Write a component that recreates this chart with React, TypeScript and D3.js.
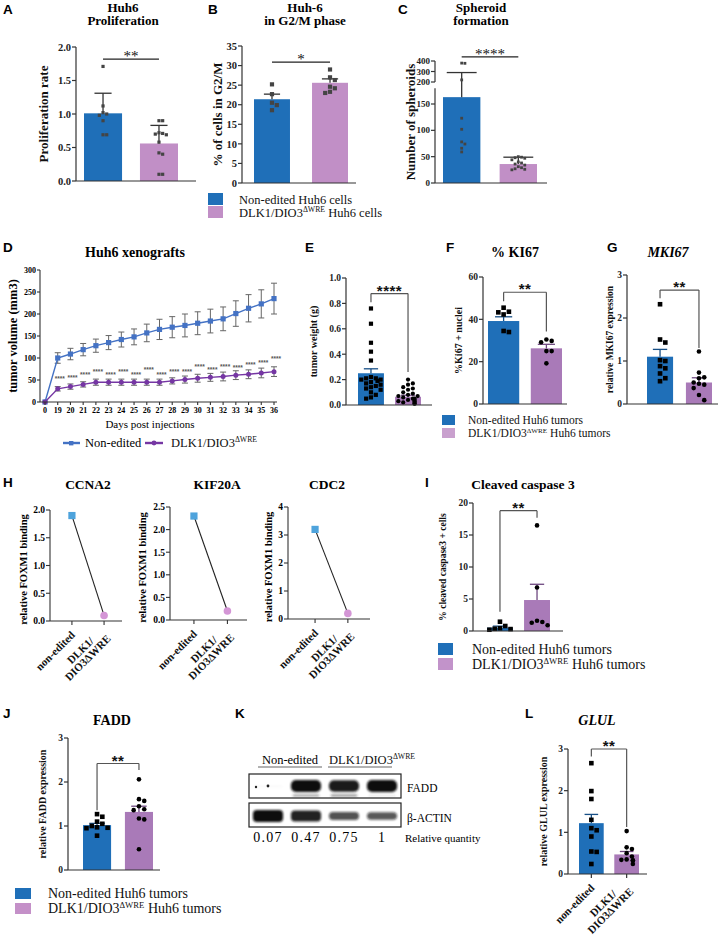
import React from 'react';
import * as d3 from 'd3';

const SERIF = '"Liberation Serif", "Times New Roman", serif';
const SANS = '"Liberation Sans", Arial, sans-serif';

const BLUE = '#1f6fb8';
const PURPLE_L = '#c18fc6';
const PURPLE = '#a97ab8';
const BLUE_D = '#174f86';
const PURPLE_D = '#6e4880';

// ---------- data ----------
// A: Huh6 proliferation
const prolifMean = [1.01, 0.56];
const prolifSem = [0.3, 0.27];
const prolifPts = [
  [1.71, 1.12, 1.02, 1.0, 0.98, 0.9, 0.69, 0.69],
  [0.9, 0.9, 0.72, 0.71, 0.7, 0.69, 0.58, 0.42, 0.4, 0.1, 0.1],
];
// B: G2/M phase
const g2mMean = [21.4, 25.6];
const g2mSem = [1.3, 1.0];
const g2mPts = [
  [25.2, 22.7, 20.5, 19.9, 18.6],
  [29, 27, 26.3, 24.6, 24.2, 23.3, 23.0],
];
// C: spheroids
const sphMean = [163, 36];
const sphSem = [127, 13];
const sphPts = [
  [380, 378, 220, 123, 102, 78, 74, 66, 59],
  [50, 49, 48, 47, 44, 40, 38, 36, 34, 31, 29, 27, 26, 25],
];
// D: xenografts
const days = ['0', '19', '20', '21', '22', '23', '24', '25', '26', '27', '28', '29', '30', '31', '32', '33', '34', '35', '36'];
const volNonEdited = [0, 100, 109, 119, 128, 135, 142, 148, 157, 165, 170, 174, 179, 184, 189, 201, 213, 223, 235];
const semNonEdited = [0, 12, 13, 14, 15, 16, 17, 18, 20, 23, 24, 26, 26, 27, 27, 29, 31, 32, 35];
const volDlk = [0, 30, 35, 40, 45, 45, 45, 45, 45, 45, 48, 51, 54, 56, 58, 61, 63, 66, 69];
const semDlk = [0, 5, 6, 6, 7, 7, 7, 7, 7, 7, 7, 8, 9, 9, 10, 10, 10, 11, 11];
const starLevel = [NaN, 48, 50, 56, 63, 56, 63, 56, 69, 56, 64, 64, 75, 69, 76, 72, 80, 84, 94];
// E: tumor weight
const weightMean = [0.25, 0.065];
const weightSem = [0.035, 0.012];
const weightPts = [
  [0.76, 0.64, 0.49, 0.42, 0.35, 0.22, 0.21, 0.21, 0.2, 0.2, 0.19, 0.18, 0.17, 0.16, 0.15, 0.14, 0.13, 0.12, 0.1, 0.08, 0.06, 0.05],
  [0.2, 0.17, 0.16, 0.14, 0.13, 0.12, 0.1, 0.09, 0.08, 0.07, 0.07, 0.06, 0.05, 0.05, 0.04, 0.04, 0.03, 0.03, 0.02, 0.02, 0.01, 0.01],
];
// F: % KI67
const ki67Mean = [39.2, 26.3];
const ki67Sem = [2.0, 1.9];
const ki67Pts = [
  [45.5, 43.6, 43.3, 42.3, 34.5, 34],
  [30.5, 29.8, 29.2, 25, 25, 19.2],
];
// G: MKI67
const mki67Mean = [1.1, 0.5];
const mki67Sem = [0.17, 0.11];
const mki67Pts = [
  [2.32, 1.5, 1.43, 1.02, 1.0, 0.88, 0.83, 0.71, 0.6, 0.53],
  [1.22, 0.73, 0.62, 0.6, 0.5, 0.47, 0.45, 0.37, 0.21, 0.09],
];
// H: FOXM1 binding
const foxCategories = [['non-edited'], ['DLK1/', 'DIO3ΔWRE']];
const foxCcna2 = [1.9, 0.1];
const foxKif20a = [2.3, 0.2];
const foxCdc2 = [3.2, 0.2];
// I: cleaved caspase 3
const caspMean = [0.52, 4.84];
const caspSem = [0.24, 2.46];
const caspPts = [
  [1.45, 0.78, 0.42, 0.35, 0.3, 0.2],
  [16.5, 6.8, 1.6, 1.4, 1.3, 0.9],
];
// J: FADD
const faddMean = [1.02, 1.32];
const faddSem = [0.04, 0.13];
const faddPts = [
  [1.27, 1.21, 1.1, 1.05, 1.0, 0.97, 0.96, 0.95, 0.78],
  [2.06, 1.61, 1.57, 1.45, 1.38, 1.36, 1.17, 1.15, 0.47],
];
// K: western blot
const relQuantity = [0.07, 0.47, 0.75, 1];
const faddBand = [0.05, 1, 0.95, 1];
const faddLowerBand = [0, 0.35, 0.4, 0.08];
const actinBand = [1, 0.85, 0.5, 0.45];
// L: GLUL
const glulMean = [1.22, 0.47];
const glulSem = [0.21, 0.07];
const glulPts = [
  [2.66, 1.99, 1.8, 1.3, 1.1, 1.05, 0.9, 0.54, 0.53, 0.24],
  [1.03, 0.64, 0.6, 0.5, 0.42, 0.35, 0.34, 0.33, 0.32, 0.24],
];

// ---------- helpers ----------
let ctx: CanvasRenderingContext2D | null = null;
function measure(t: string, font: string) {
  if (!ctx) ctx = document.createElement('canvas').getContext('2d');
  if (!ctx) return t.length * 5;
  ctx.font = font;
  return ctx.measureText(t).width;
}

// simple deterministic beeswarm offsets
function swarm(vals: number[], y: (v: number) => number, d: number, maxOff: number) {
  const placed: [number, number][] = [];
  const xs: number[] = new Array(vals.length).fill(0);
  const order = d3.range(vals.length).sort((a, b) => vals[b] - vals[a]);
  for (const i of order) {
    const py = y(vals[i]);
    let off = 0;
    for (let k = 0; k < 40; k++) {
      const o = k === 0 ? 0 : (k % 2 ? 1 : -1) * Math.ceil(k / 2) * d;
      if (Math.abs(o) > maxOff) { off = (k % 2 ? 1 : -1) * maxOff * 0.6; break; }
      if (placed.every(([px, qy]) => Math.hypot(px - o, qy - py) >= d)) { off = o; break; }
    }
    placed.push([off, py]);
    xs[i] = off;
  }
  return xs;
}

function DlkText({ x, y, size, rest, weight = 'normal', anchor = 'start' }: any) {
  return (
    <text x={x} y={y} fontSize={size} fontFamily={SERIF} fontWeight={weight} textAnchor={anchor} fill="#111">
      DLK1/DIO3
      <tspan dy={-size * 0.38} fontSize={size * 0.62}>ΔWRE</tspan>
      {rest ? <tspan dy={size * 0.38}>{rest}</tspan> : null}
    </text>
  );
}

function RotLabel({ x, y, lines, size }: { x: number; y: number; lines: string[]; size: number }) {
  const font = `bold ${size}px ${SERIF}`;
  const w = Math.max(...lines.map(l => measure(l, font)));
  const n = lines.length;
  return (
    <text transform={`translate(${x},${y}) rotate(-45)`} fontFamily={SERIF} fontWeight="bold" fontSize={size} textAnchor="middle" fill="#111">
      {lines.map((l, i) => (
        <tspan key={i} x={-w / 2} y={size * 0.35 + (i - (n - 1) / 2) * size * 0.95}>{l}</tspan>
      ))}
    </text>
  );
}

function Letter({ x, y, t }: { x: number; y: number; t: string }) {
  return <text x={x} y={y} fontFamily={SANS} fontWeight="bold" fontSize={13.5} fill="#000">{t}</text>;
}

function Title({ x, y, lines, size, italic, gap = 13.5 }: any) {
  return (
    <g>
      {lines.map((l: string, i: number) => (
        <text key={i} x={x} y={y + i * gap} textAnchor="middle" fontFamily={SERIF} fontWeight="bold" fontSize={size} fontStyle={italic ? 'italic' : 'normal'} fill="#000">{l}</text>
      ))}
    </g>
  );
}

type Legend = { x: number; y: number; w: number; h: number; gap: number; textX: number; size: number; colors: string[]; rest: string };
function SquareLegend({ l }: { l: Legend }) {
  return (
    <g>
      {l.colors.map((c, i) => <rect key={i} x={l.x} y={l.y + i * l.gap} width={l.w} height={l.h} fill={c} />)}
      <text x={l.textX} y={l.y + l.h - 1} fontFamily={SERIF} fontSize={l.size} fill="#111">Non-edited{l.rest}</text>
      <DlkText x={l.textX} y={l.y + l.gap + l.h - 1} size={l.size} rest={l.rest} />
    </g>
  );
}

// ---------- bar panels ----------
type Sig = { label: string; y: number; legs?: [number, number]; size: number; font: string; color: string };
type BarCfg = {
  means: number[]; sems: number[]; pts: number[][];
  axisX: number; axisEnd: number; y0: number; yTop: number; domain: [number, number];
  upper?: { domain: [number, number]; range: [number, number]; ticks: number[] };
  ticks: number[]; fmt: (v: number) => string; tickSize: number;
  band: [number, number]; padIn: number;
  fills: string[]; errColors: string[]; capFrac: number;
  shapes: string[]; ptColor: string; ptSize: number;
  ylabel: string; ylabelX: number; ylabelSize: number;
  sig: Sig; xLabels?: string[][];
};

function BarPanel({ c }: { c: BarCfg }) {
  const lo = d3.scaleLinear().domain(c.domain).range([c.y0, c.yTop]);
  const hi = c.upper ? d3.scaleLinear().domain(c.upper.domain).range(c.upper.range) : null;
  const y = (v: number) => (hi && v > c.domain[1] ? hi(v) : lo(v));
  const x = d3.scaleBand<number>().domain(d3.range(c.means.length)).range(c.band).paddingInner(c.padIn);
  const bw = x.bandwidth();
  const cx = (i: number) => (x(i) as number) + bw / 2;
  const topY = c.upper ? c.upper.range[1] : c.yTop;
  const ticks = c.ticks.map(t => ({ t, py: lo(t) })).concat(c.upper ? c.upper.ticks.map(t => ({ t, py: hi!(t) })) : []);
  const sy = y(c.sig.y);
  const x1 = cx(0), x2 = cx(1);
  return (
    <g>
      {c.means.map((m, i) => (
        <rect key={'b' + i} x={x(i)} y={y(m)} width={bw} height={c.y0 - y(m)} fill={c.fills[i]} />
      ))}
      {c.means.map((m, i) => {
        const cw = bw * c.capFrac;
        const t = y(m + c.sems[i]);
        return (
          <g key={'e' + i} stroke={c.errColors[i]} strokeWidth={1.3}>
            <line x1={cx(i)} x2={cx(i)} y1={y(m)} y2={t} />
            <line x1={cx(i) - cw / 2} x2={cx(i) + cw / 2} y1={t} y2={t} />
          </g>
        );
      })}
      {c.pts.map((arr, gi) => {
        const offs = swarm(arr, y, c.ptSize * 1.15, bw * 0.42);
        return arr.map((v, k) => {
          const px = cx(gi) + offs[k];
          const py = y(v);
          return c.shapes[gi] === 'sq' ? (
            <rect key={gi + '-' + k} x={px - c.ptSize / 2} y={py - c.ptSize / 2} width={c.ptSize} height={c.ptSize} fill={c.ptColor} />
          ) : (
            <circle key={gi + '-' + k} cx={px} cy={py} r={c.ptSize / 2} fill={c.ptColor} />
          );
        });
      })}
      <g stroke="#333" strokeWidth={1.2}>
        <line x1={c.axisX} x2={c.axisX} y1={c.y0} y2={c.yTop} />
        {c.upper ? <line x1={c.axisX} x2={c.axisX} y1={c.upper.range[0]} y2={c.upper.range[1]} /> : null}
        <line x1={c.axisX} x2={c.axisEnd} y1={c.y0} y2={c.y0} />
        {ticks.map(({ t, py }) => <line key={t} x1={c.axisX - 4} x2={c.axisX} y1={py} y2={py} />)}
        {c.xLabels ? c.means.map((_, i) => <line key={'xt' + i} x1={cx(i)} x2={cx(i)} y1={c.y0} y2={c.y0 + 4} />) : null}
      </g>
      {ticks.map(({ t, py }) => (
        <text key={'l' + t} x={c.axisX - 5} y={py} dy="0.35em" textAnchor="end" fontFamily={SERIF} fontWeight="bold" fontSize={c.tickSize} fill="#222">{c.fmt(t)}</text>
      ))}
      <text transform={`translate(${c.ylabelX},${(c.y0 + topY) / 2}) rotate(-90)`} textAnchor="middle" dy="0.35em" fontFamily={SERIF} fontWeight="bold" fontSize={c.ylabelSize} fill="#111">{c.ylabel}</text>
      <g stroke={c.sig.color} strokeWidth={1.2} fill="none">
        <line x1={x1} x2={x2} y1={sy} y2={sy} />
        {c.sig.legs ? <line x1={x1} x2={x1} y1={sy} y2={y(c.sig.legs[0])} /> : null}
        {c.sig.legs ? <line x1={x2} x2={x2} y1={sy} y2={y(c.sig.legs[1])} /> : null}
      </g>
      <text x={(x1 + x2) / 2} y={sy + 2} textAnchor="middle" fontFamily={c.sig.font} fontWeight={c.sig.font === SANS ? 'bold' : 'normal'} fontSize={c.sig.size} fill="#111" letterSpacing={c.sig.font === SANS ? 0.5 : 0}>{c.sig.label}</text>
      {c.xLabels ? c.xLabels.map((lines, i) => <RotLabel key={'rl' + i} x={cx(i) + 1} y={c.y0 + 12} lines={lines} size={11} />) : null}
    </g>
  );
}

const f1 = d3.format('.1f');
const f0 = d3.format('d');
const sigSerif = (label: string, y: number): Sig => ({ label, y, size: 15, font: SERIF, color: '#222' });
const sigSans = (label: string, y: number, legs: [number, number]): Sig => ({ label, y, legs, size: 15, font: SANS, color: '#555' });
const tumorBase = {
  fills: [BLUE, PURPLE], errColors: [BLUE_D, PURPLE_D], capFrac: 0.55,
  shapes: ['sq', 'ci'], ptColor: '#000', ptSize: 4.6, tickSize: 9.5, ylabelSize: 10,
};

const panelA: BarCfg = {
  means: prolifMean, sems: prolifSem, pts: prolifPts,
  axisX: 76, axisEnd: 196, y0: 181, yTop: 47, domain: [0, 2],
  ticks: [0, 0.5, 1, 1.5, 2], fmt: f1, tickSize: 10.5,
  band: [84, 178], padIn: 0.32, fills: [BLUE, PURPLE_L], errColors: ['#333', '#333'], capFrac: 0.45,
  shapes: ['sq', 'sq'], ptColor: '#444', ptSize: 3.2,
  ylabel: 'Proliferation rate', ylabelX: 43, ylabelSize: 13, sig: sigSerif('**', 1.82),
};
const panelB: BarCfg = {
  means: g2mMean, sems: g2mSem, pts: g2mPts,
  axisX: 242, axisEnd: 356, y0: 183, yTop: 46, domain: [0, 35],
  ticks: [0, 5, 10, 15, 20, 25, 30, 35], fmt: f0, tickSize: 10.5,
  band: [254, 348], padIn: 0.38, fills: [BLUE, PURPLE_L], errColors: ['#333', '#333'], capFrac: 0.45,
  shapes: ['sq', 'sq'], ptColor: '#444', ptSize: 4.2,
  ylabel: '% of cells in G2/M', ylabelX: 217, ylabelSize: 13, sig: sigSerif('*', 30.9),
};
const panelC: BarCfg = {
  means: sphMean, sems: sphSem, pts: sphPts,
  axisX: 435, axisEnd: 547, y0: 183, yTop: 88.2, domain: [0, 180],
  upper: { domain: [200, 400], range: [82, 61], ticks: [200, 300, 400] },
  ticks: [0, 50, 100, 150], fmt: f0, tickSize: 9,
  band: [443, 537], padIn: 0.34, fills: [BLUE, PURPLE_L], errColors: ['#333', '#333'], capFrac: 0.8,
  shapes: ['sq', 'sq'], ptColor: '#444', ptSize: 2.8,
  ylabel: 'Number of spheroids', ylabelX: 410, ylabelSize: 13, sig: sigSerif('****', 440),
};
const panelE: BarCfg = {
  ...tumorBase, means: weightMean, sems: weightSem, pts: weightPts, ptSize: 4.2,
  axisX: 346, axisEnd: 432, y0: 405, yTop: 278, domain: [0, 1],
  ticks: [0, 0.2, 0.4, 0.6, 0.8, 1], fmt: f1, band: [358, 421], padIn: 0.3,
  ylabel: 'tumor weight (g)', ylabelX: 313, sig: sigSans('****', 0.877, [0.81, 0.26]),
};
const panelF: BarCfg = {
  ...tumorBase, means: ki67Mean, sems: ki67Sem, pts: ki67Pts,
  axisX: 483, axisEnd: 567, y0: 404, yTop: 277, domain: [0, 60],
  ticks: [0, 20, 40, 60], fmt: f0, band: [488, 562], padIn: 0.27,
  ylabel: '%Ki67 + nuclei', ylabelX: 458, sig: sigSans('**', 52.8, [48.6, 34.2]),
};
const panelG: BarCfg = {
  ...tumorBase, means: mki67Mean, sems: mki67Sem, pts: mki67Pts,
  axisX: 627, axisEnd: 718, y0: 404, yTop: 275, domain: [0, 3],
  ticks: [0, 1, 2, 3], fmt: f0, band: [647, 712], padIn: 0.33,
  ylabel: 'relative MKI67 expression', ylabelX: 610, ylabelSize: 9.5, sig: sigSans('**', 2.65, [2.46, 1.3]),
};
const panelI: BarCfg = {
  ...tumorBase, means: caspMean, sems: caspSem, pts: caspPts,
  axisX: 473, axisEnd: 563, y0: 631, yTop: 503, domain: [0, 20],
  ticks: [0, 5, 10, 15, 20], fmt: f0, band: [487, 550], padIn: 0.3,
  ylabel: '% cleaved caspase3 + cells', ylabelX: 443, ylabelSize: 9.5, sig: sigSans('**', 18.8, [3.0, 17.7]),
};
const panelJ: BarCfg = {
  ...tumorBase, means: faddMean, sems: faddSem, pts: faddPts,
  axisX: 68, axisEnd: 160, y0: 870, yTop: 738, domain: [0, 3],
  ticks: [0, 1, 2, 3], fmt: f0, band: [83, 153], padIn: 0.33,
  ylabel: 'relative FADD expression', ylabelX: 42, sig: sigSans('**', 2.42, [1.36, 2.27]),
};
const panelL: BarCfg = {
  ...tumorBase, means: glulMean, sems: glulSem, pts: glulPts,
  axisX: 568, axisEnd: 647, y0: 874, yTop: 749, domain: [0, 3],
  ticks: [0, 1, 2, 3], fmt: f0, band: [579, 639], padIn: 0.3,
  ylabel: 'relative GLUL expression', ylabelX: 543, sig: sigSans('**', 3.0, [2.82, 1.13]),
  xLabels: foxCategories,
};

// ---------- D: xenograft line chart ----------
function XenoPanel() {
  const x = d3.scalePoint<string>().domain(days).range([45, 274]);
  const y = d3.scaleLinear().domain([0, 300]).range([402, 270]);
  const line = d3.line<number>().x((_, i) => x(days[i])!).y(v => y(v));
  const series = [
    { vals: volNonEdited, sem: semNonEdited, color: '#4472c4', shape: 'sq' },
    { vals: volDlk, sem: semDlk, color: '#7536a3', shape: 'ci' },
  ];
  return (
    <g>
      {series.map((s, si) => (
        <g key={si}>
          <g stroke="#666" strokeWidth={1}>
            {s.vals.map((v, i) => s.sem[i] > 0 ? (
              <g key={i}>
                <line x1={x(days[i])} x2={x(days[i])} y1={y(v - s.sem[i])} y2={y(v + s.sem[i])} />
                <line x1={x(days[i])! - 3} x2={x(days[i])! + 3} y1={y(v + s.sem[i])} y2={y(v + s.sem[i])} />
                <line x1={x(days[i])! - 3} x2={x(days[i])! + 3} y1={y(v - s.sem[i])} y2={y(v - s.sem[i])} />
              </g>
            ) : null)}
          </g>
          <path d={line(s.vals) || ''} fill="none" stroke={s.color} strokeWidth={1.4} />
          {s.vals.map((v, i) => s.shape === 'sq'
            ? <rect key={i} x={x(days[i])! - 2.6} y={y(v) - 2.6} width={5.2} height={5.2} fill={s.color} />
            : <circle key={i} cx={x(days[i])} cy={y(v)} r={2.5} fill={s.color} />)}
        </g>
      ))}
      {starLevel.map((v, i) => isNaN(v) ? null : (
        <text key={'s' + i} x={x(days[i])! + 2} y={y(v)} textAnchor="middle" fontFamily={SANS} fontWeight="bold" fontSize={6.5} fill="#555">****</text>
      ))}
      <g stroke="#333" strokeWidth={1.1}>
        <line x1={40} x2={40} y1={402} y2={270} />
        <line x1={40} x2={277} y1={402} y2={402} />
        {y.ticks(6).map(t => <line key={t} x1={37} x2={40} y1={y(t)} y2={y(t)} />)}
        {days.map(d => <line key={d} x1={x(d)} x2={x(d)} y1={402} y2={405} />)}
      </g>
      {y.ticks(6).map(t => (
        <text key={'yl' + t} x={36} y={y(t)} dy="0.35em" textAnchor="end" fontFamily={SERIF} fontWeight="bold" fontSize={8}>{t}</text>
      ))}
      {days.map(d => (
        <text key={'xl' + d} x={x(d)} y={413} textAnchor="middle" fontFamily={SERIF} fontWeight="bold" fontSize={8}>{d}</text>
      ))}
      <text transform="translate(13,336) rotate(-90)" textAnchor="middle" dy="0.35em" fontFamily={SERIF} fontWeight="bold" fontSize={12.5}>tumor volume (mm3)</text>
      <text x={150} y={428} textAnchor="middle" fontFamily={SERIF} fontSize={11}>Days post injections</text>
      <g>
        <line x1={63} x2={80} y1={443} y2={443} stroke="#4472c4" strokeWidth={2.4} />
        <rect x={69} y={441} width={4.4} height={4.4} fill="#4472c4" />
        <text x={85} y={447} fontFamily={SERIF} fontSize={12.5}>Non-edited</text>
        <line x1={145} x2={163} y1={443} y2={443} stroke="#7536a3" strokeWidth={2.4} />
        <circle cx={154} cy={443} r={2.4} fill="#7536a3" />
        <DlkText x={171} y={447} size={12.5} />
      </g>
    </g>
  );
}

// ---------- H: FOXM1 ChIP ----------
type FoxCfg = { title: string; titleX: number; axisX: number; axisEnd: number; y0: number; yTop: number; domain: [number, number]; ticks: number[]; fmt: (v: number) => string; ylabelX: number; pad: number; vals: number[] };
function FoxPanel({ c }: { c: FoxCfg }) {
  const y = d3.scaleLinear().domain(c.domain).range([c.y0, c.yTop]);
  const x = d3.scalePoint<number>().domain([0, 1]).range([c.axisX, c.axisEnd]).padding(c.pad).align(0.55);
  return (
    <g>
      <Title x={c.titleX} y={489} lines={[c.title]} size={13.5} />
      <line x1={x(0)} x2={x(1)} y1={y(c.vals[0])} y2={y(c.vals[1])} stroke="#222" strokeWidth={1.1} />
      <rect x={x(0)! - 3.6} y={y(c.vals[0]) - 3.6} width={7.2} height={7.2} fill="#4ea3dc" />
      <circle cx={x(1)} cy={y(c.vals[1])} r={3.8} fill="#d496d6" />
      <g stroke="#333" strokeWidth={1.1}>
        <line x1={c.axisX} x2={c.axisX} y1={c.y0} y2={c.yTop} />
        <line x1={c.axisX} x2={c.axisEnd} y1={c.y0} y2={c.y0} />
        {c.ticks.map(t => <line key={t} x1={c.axisX - 4} x2={c.axisX} y1={y(t)} y2={y(t)} />)}
        {[0, 1].map(i => <line key={'x' + i} x1={x(i)} x2={x(i)} y1={c.y0} y2={c.y0 + 4} />)}
      </g>
      {c.ticks.map(t => (
        <text key={'l' + t} x={c.axisX - 5} y={y(t)} dy="0.35em" textAnchor="end" fontFamily={SERIF} fontWeight="bold" fontSize={9.5}>{c.fmt(t)}</text>
      ))}
      <text transform={`translate(${c.ylabelX},${(c.y0 + c.yTop) / 2 + 4}) rotate(-90)`} textAnchor="middle" dy="0.35em" fontFamily={SERIF} fontWeight="bold" fontSize={10.5}>relative FOXM1 binding</text>
      {foxCategories.map((lines, i) => <RotLabel key={i} x={x(i)! + 1} y={c.y0 + 12} lines={lines} size={11} />)}
    </g>
  );
}

const foxPanels: FoxCfg[] = [
  { title: 'CCNA2', titleX: 88, axisX: 50, axisEnd: 122, y0: 621, yTop: 510, domain: [0, 2], ticks: [0, 0.5, 1, 1.5, 2], fmt: f1, ylabelX: 23, pad: 0.62, vals: foxCcna2 },
  { title: 'KIF20A', titleX: 217, axisX: 170, axisEnd: 247, y0: 620, yTop: 507, domain: [0, 2.5], ticks: [0, 0.5, 1, 1.5, 2, 2.5], fmt: f1, ylabelX: 142, pad: 0.65, vals: foxKif20a },
  { title: 'CDC2', titleX: 327, axisX: 288, axisEnd: 370, y0: 619, yTop: 507, domain: [0, 4], ticks: [0, 1, 2, 3, 4], fmt: f0, ylabelX: 268, pad: 0.75, vals: foxCdc2 },
];

// ---------- K: western blot ----------
function BlotPanel() {
  const lane = d3.scaleBand<number>().domain(d3.range(4)).range([249, 401]).paddingInner(0.12).paddingOuter(0.06);
  const bw = lane.bandwidth();
  const cxl = (i: number) => (lane(i) as number) + bw / 2;
  return (
    <g>
      <defs>
        <filter id="blot-blur" x="-20%" y="-50%" width="140%" height="200%">
          <feGaussianBlur stdDeviation="1.1" />
        </filter>
      </defs>
      <text x={290} y={764} textAnchor="middle" fontFamily={SERIF} fontSize={12.5}>Non-edited</text>
      <line x1={258} x2={322} y1={767} y2={767} stroke="#999" strokeWidth={1.5} />
      <DlkText x={329} y={764} size={12.5} />
      <line x1={328} x2={392} y1={767} y2={767} stroke="#999" strokeWidth={1.5} />
      <rect x={249} y={774} width={152} height={24} fill="#fff" stroke="#222" strokeWidth={1.2} />
      <rect x={249} y={803} width={152} height={24} fill="#fff" stroke="#222" strokeWidth={1.2} />
      <g filter="url(#blot-blur)">
        {faddBand.map((v, i) => (
          <rect key={'f' + i} x={cxl(i) - bw * 0.45} y={786 - 6 * v} width={bw * 0.9} height={Math.max(1, 12 * v)} rx={5} fill="#111" opacity={v} />
        ))}
        {faddLowerBand.map((v, i) => v > 0 ? (
          <rect key={'fl' + i} x={cxl(i) - bw * 0.4} y={794} width={bw * 0.8} height={3} rx={1.5} fill="#333" opacity={v} />
        ) : null)}
        {actinBand.map((v, i) => (
          <rect key={'a' + i} x={cxl(i) - bw * 0.45} y={816 - (2 + 4 * v)} width={bw * 0.9} height={4 + 8 * v} rx={4} fill="#111" opacity={0.45 + 0.55 * v} />
        ))}
      </g>
      <circle cx={256} cy={787} r={1.2} fill="#222" />
      <circle cx={268} cy={786} r={1.4} fill="#222" />
      <text x={407} y={792} fontFamily={SERIF} fontSize={11.5}>FADD</text>
      <text x={407} y={822} fontFamily={SERIF} fontSize={11.5}>β-ACTIN</text>
      {relQuantity.map((v, i) => (
        <text key={'q' + i} x={cxl(i)} y={842} textAnchor="middle" fontFamily={SERIF} fontSize={14} letterSpacing={1.2}>{v === 1 ? '1' : v.toFixed(2)}</text>
      ))}
      <text x={405} y={842} fontFamily={SERIF} fontSize={11}>Relative quantity</text>
    </g>
  );
}

export default function App() {
  return (
    <svg width={726} height={942} viewBox="0 0 726 942" style={{ position: 'absolute', left: 0, top: 0, background: '#fff' }} fontFamily={SERIF}>
      <rect width={726} height={942} fill="#fff" />
      {/* A */}
      <Letter x={3} y={14} t="A" />
      <Title x={123} y={11.5} lines={['Huh6', 'Proliferation']} size={13} />
      <BarPanel c={panelA} />
      {/* B */}
      <Letter x={208} y={14} t="B" />
      <Title x={305} y={11.5} lines={['Huh-6', 'in G2/M phase']} size={13} />
      <BarPanel c={panelB} />
      <SquareLegend l={{ x: 208, y: 193, w: 15, h: 12, gap: 13, textX: 239, size: 12.5, colors: [BLUE, PURPLE_L], rest: ' Huh6 cells' }} />
      {/* C */}
      <Letter x={398} y={14} t="C" />
      <Title x={481} y={11.5} lines={['Spheroid', 'formation']} size={13} />
      <BarPanel c={panelC} />
      {/* D */}
      <Letter x={3} y={252} t="D" />
      <Title x={135} y={257} lines={['Huh6 xenografts']} size={14} />
      <XenoPanel />
      {/* E */}
      <Letter x={305} y={252} t="E" />
      <BarPanel c={panelE} />
      {/* F */}
      <Letter x={446} y={252} t="F" />
      <Title x={515} y={257} lines={['% KI67']} size={14} />
      <BarPanel c={panelF} />
      {/* G */}
      <Letter x={607} y={252} t="G" />
      <Title x={668} y={257} lines={['MKI67']} size={14} italic />
      <BarPanel c={panelG} />
      <SquareLegend l={{ x: 442, y: 415, w: 13, h: 10, gap: 13, textX: 468, size: 11.5, colors: [BLUE, '#c9a0ce'], rest: ' Huh6 tumors' }} />
      {/* H */}
      <Letter x={3} y={487} t="H" />
      {foxPanels.map((c, i) => <FoxPanel key={i} c={c} />)}
      {/* I */}
      <Letter x={425} y={487} t="I" />
      <Title x={523} y={489} lines={['Cleaved caspase 3']} size={13.5} />
      <BarPanel c={panelI} />
      <SquareLegend l={{ x: 438, y: 643, w: 15, h: 12, gap: 15, textX: 472, size: 14, colors: [BLUE, '#c293ca'], rest: ' Huh6 tumors' }} />
      {/* J */}
      <Letter x={3} y={718} t="J" />
      <Title x={112} y={725} lines={['FADD']} size={14} />
      <BarPanel c={panelJ} />
      <SquareLegend l={{ x: 15, y: 888, w: 16, h: 11, gap: 15, textX: 48, size: 14, colors: [BLUE, '#c490c8'], rest: ' Huh6 tumors' }} />
      {/* K */}
      <Letter x={235} y={718} t="K" />
      <BlotPanel />
      {/* L */}
      <Letter x={525} y={718} t="L" />
      <Title x={597} y={725} lines={['GLUL']} size={14} italic />
      <BarPanel c={panelL} />
    </svg>
  );
}
